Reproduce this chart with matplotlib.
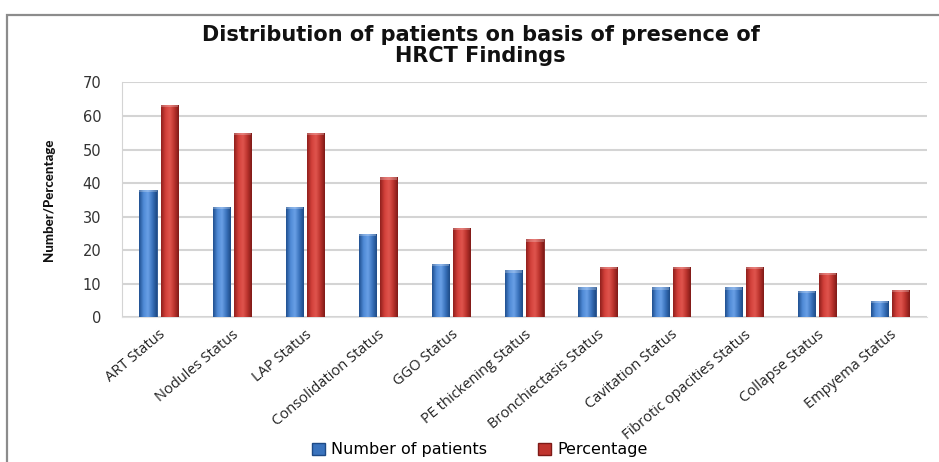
import numpy as np
import matplotlib.pyplot as plt
from matplotlib.patches import Patch, Rectangle
from matplotlib.colors import LinearSegmentedColormap

# HRCT findings, 60 patients in total
findings = ['ART Status', 'Nodules Status', 'LAP Status', 'Consolidation Status',
            'GGO Status', 'PE thickening Status', 'Bronchiectasis Status',
            'Cavitation Status', 'Fibrotic opacities Status', 'Collapse Status',
            'Empyema Status']
n_patients = [38, 33, 33, 25, 16, 14, 9, 9, 9, 8, 5]
percentage = [63.3, 55, 55, 41.7, 26.7, 23.3, 15, 15, 15, 13.3, 8.3]

fig = plt.figure(figsize=(9.39, 4.62), dpi=100)
ax = fig.add_axes([0.130, 0.3128, 0.857, 0.509])

# outer chart border
fig.patches.append(Rectangle((7 / 939, -0.1), 1.2, 0.9675 + 0.1, transform=fig.transFigure,
                             fill=False, edgecolor='#8c8c8c', lw=1.6, zorder=0))

blue_cm = LinearSegmentedColormap.from_list('b', ['#1f4f8f', '#4f8ad6', '#6aa0e6', '#3a73bd', '#1d4a86'])
red_cm = LinearSegmentedColormap.from_list('r', ['#8f1f1c', '#d2403a', '#e0554e', '#bb332d', '#7e1a17'])
grad = np.linspace(0, 1, 64).reshape(1, -1)

x = np.arange(len(findings))
w = 0.235
off = 0.145


def shaded_bars(xpos, vals, cmap, edge):
    bars = ax.bar(xpos, vals, w, color=cmap(0.5), edgecolor=edge, lw=0.6, zorder=3)
    for b in bars:
        bx, by = b.get_x(), b.get_y()
        bw, bh = b.get_width(), b.get_height()
        im = ax.imshow(grad, cmap=cmap, aspect='auto', extent=(bx, bx + bw, by, by + bh),
                       zorder=3.5, interpolation='bicubic')
        im.set_clip_path(b)
        # lighter cap on top
        ax.add_patch(Rectangle((bx, by + bh - 0.7), bw, 0.7, color='white', alpha=0.25,
                               lw=0, zorder=4))
    return bars


shaded_bars(x - off, n_patients, blue_cm, '#1d4a86')
shaded_bars(x + off, percentage, red_cm, '#7e1a17')

ax.set_xlim(-0.5, len(findings) - 0.5)
ax.set_ylim(0, 70)
ax.set_yticks(range(0, 71, 10))
ax.yaxis.grid(True, color='#d4d4d4', lw=1.5, zorder=0)
ax.set_axisbelow(True)
for s in ['top', 'right']:
    ax.spines[s].set_visible(False)
ax.spines['left'].set_color('#d4d4d4')
ax.spines['bottom'].set_color('#e0e0e0')
ax.tick_params(axis='both', length=0)
ax.tick_params(axis='y', pad=15, labelsize=10.5, labelcolor='#333333')
for lab in ax.get_yticklabels():
    lab.set_fontfamily('DejaVu Sans')

ax.set_xticks(x)
ax.set_xticklabels(findings, rotation=40, ha='right', rotation_mode='anchor',
                   fontsize=10.5, fontfamily='Open Sans', color='#222222')
ax.tick_params(axis='x', pad=7)

ax.set_ylabel('Number/Percentage', fontsize=9.5, fontweight='black',
              fontfamily='Lato', labelpad=20, color='#111111')

fig.text(0.512, 0.924, 'Distribution of patients on basis of presence of',
         ha='center', va='center', fontsize=15, fontweight='bold',
         fontfamily='DejaVu Sans', color='#111111')
fig.text(0.512, 0.879, 'HRCT Findings',
         ha='center', va='center', fontsize=15, fontweight='bold',
         fontfamily='DejaVu Sans', color='#111111')

handles = [Patch(facecolor='#3a73bd', edgecolor='#1d4a86', label='Number of patients'),
           Patch(facecolor='#c0352f', edgecolor='#7e1a17', label='Percentage')]
fig.legend(handles=handles, loc='center', bbox_to_anchor=(0.511, 0.026), ncol=2,
           frameon=False, fontsize=11.5, handlelength=0.8, handleheight=0.8,
           handletextpad=0.4, columnspacing=3.2)

fig.savefig('out.png', dpi=100)
